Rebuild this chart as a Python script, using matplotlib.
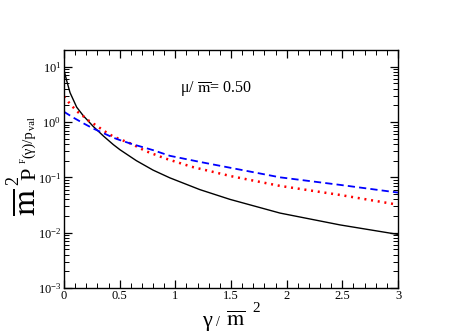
import numpy as np
import matplotlib
matplotlib.use("Agg")
import matplotlib.pyplot as plt
from matplotlib.ticker import MultipleLocator, LogLocator, NullFormatter

plt.rcParams['font.family'] = ['Liberation Serif', 'DejaVu Serif']
plt.rcParams['mathtext.fontset'] = 'stix'

# data
gamma_black = [0, 0.024, 0.054, 0.114, 0.173, 0.263, 0.353, 0.443, 0.503, 0.65, 0.80, 0.95, 1.22, 1.49, 1.94, 2.48, 3.0]
p_black = [8.6, 5.6, 3.4, 1.85, 1.3, 0.83, 0.56, 0.39, 0.315, 0.20, 0.135, 0.098, 0.060, 0.040, 0.0226, 0.0138, 0.0093]

gamma_red = [0, 0.04, 0.084, 0.13, 0.18, 0.227, 0.28, 0.33, 0.38, 0.44, 0.5, 0.61, 0.73, 0.907, 1.147, 1.5, 1.94, 2.48, 2.96]
p_red = [2.9, 2.3, 1.83, 1.48, 1.24, 1.04, 0.89, 0.76, 0.65, 0.55, 0.49, 0.40, 0.30, 0.22, 0.155, 0.105, 0.070, 0.048, 0.033]

gamma_blue = [0, 0.084, 0.173, 0.263, 0.353, 0.443, 0.503, 0.61, 0.8, 0.95, 1.22, 1.5, 1.94, 2.48, 3.0]
p_blue = [1.53, 1.2, 0.95, 0.76, 0.63, 0.52, 0.47, 0.40, 0.31, 0.245, 0.19, 0.148, 0.10, 0.073, 0.053]

xticks = [0, 0.5, 1, 1.5, 2, 2.5, 3]
xticklabels = ['0', '0.5', '1', '1.5', '2', '2.5', '3']

W, H = 474, 335
fig = plt.figure(figsize=(W / 100, H / 100), dpi=100)
ax = fig.add_axes([64 / W, 1 - 288 / H, 334 / W, 238 / H])

ax.plot(gamma_black, p_black, color='black', lw=1.0, ls='-')
ax.plot(gamma_red, p_red, color='red', lw=1.8, ls=(0, (0.8, 1.9)))
ax.plot(gamma_blue, p_blue, color='blue', lw=1.3, ls=(0, (4, 2.3)))

ax.set_yscale('log')
ax.set_xlim(0, 3)
ax.set_ylim(1e-3, 20)
ax.set_xticks(xticks)
ax.set_xticklabels(xticklabels)
ax.xaxis.set_minor_locator(MultipleLocator(0.1))
ax.yaxis.set_major_locator(LogLocator(base=10, numticks=10))
ax.yaxis.set_minor_locator(LogLocator(base=10, subs=np.arange(2, 10), numticks=20))
ax.yaxis.set_minor_formatter(NullFormatter())

ax.tick_params(which='both', direction='in', top=True, right=True, labelsize=9, colors='black')
ax.tick_params(axis='x', which='major', pad=1.5)
ax.tick_params(axis='y', which='major', pad=2)
ax.tick_params(which='major', length=6, width=0.9)
ax.tick_params(which='minor', length=3.5, width=0.7)
for s in ax.spines.values():
    s.set_linewidth(1.0)


def fx(px):
    return px / W


def fy(py_top):
    return 1 - py_top / H


# annotation  (mu / m-bar = 0.50)
fig.text(fx(180), fy(92), r'μ/ $\overline{\rm m}$= 0.50', fontsize=11.5, ha='left', va='baseline')

# x label: gamma / m-bar ^2
fig.text(fx(202), fy(326), 'γ', fontsize=16, ha='left', va='baseline')
fig.text(fx(216), fy(326), '/', fontsize=10, ha='left', va='baseline')
fig.text(fx(226), fy(326), r'$\overline{\rm m}$', fontsize=16, ha='left', va='baseline')
fig.text(fx(252), fy(312), '2', fontsize=11, ha='left', va='baseline')

# y label: m-bar^2 P^F (gamma)/p_val   (rotated)
ykw = dict(rotation=90, rotation_mode='anchor', ha='left', va='baseline')
fig.text(fx(35), fy(216), r'$\overline{\rm m}$', fontsize=24, **ykw)
fig.text(fx(18), fy(185), '2', fontsize=13, **ykw)
fig.text(fx(35), fy(180), 'P', fontsize=16, **ykw)
fig.text(fx(26), fy(163), 'F', fontsize=6.5, **ykw)
fig.text(fx(32), fy(158), '(γ)/p', fontsize=10.5, **ykw)
fig.text(fx(35), fy(130), 'val', fontsize=7.5, **ykw)

fig.savefig('out.png', dpi=100)
